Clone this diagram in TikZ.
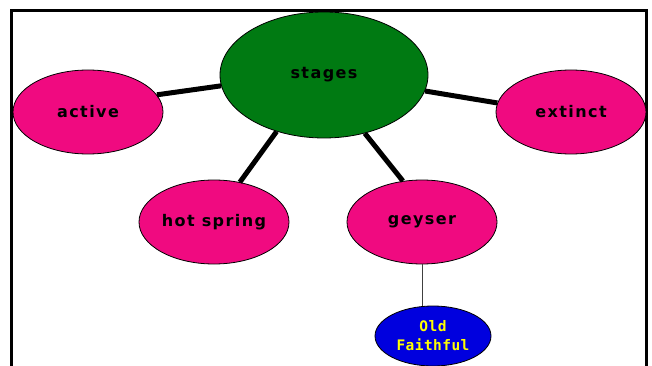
\documentclass[tikz,border=0pt]{standalone}
\usepackage{fontspec}
\usetikzlibrary{shapes.geometric}
\newfontfamily\labelfont[LetterSpace=9]{DejaVu Sans Bold}
\newfontfamily\namefont[LetterSpace=3]{DejaVu Sans Mono Bold}
\definecolor{stagegreen}{RGB}{0,122,18}
\definecolor{stagepink}{RGB}{240,10,128}
\definecolor{faithblue}{RGB}{0,0,222}
\definecolor{faithyellow}{RGB}{255,255,0}
\tikzset{
  bubble/.style={ellipse, draw=black, line width=0.8pt, inner sep=0pt,
    font=\labelfont\fontsize{16}{18}\selectfont, text=black},
  stagebox/.style={bubble, fill=stagepink, minimum width=150pt, minimum height=84pt},
  hub/.style={bubble, fill=stagegreen, minimum width=208pt, minimum height=126pt},
  namebox/.style={bubble, fill=faithblue, minimum width=116pt, minimum height=60pt,
    text=faithyellow, align=center, font=\namefont\fontsize{14.5}{19}\selectfont},
  spoke/.style={line width=5pt, black},
  twig/.style={line width=0.9pt, black!75}
}
\begin{document}
\begin{tikzpicture}[x=1pt, y=-1pt]
  \useasboundingbox (0,0) rectangle (652,366);
  \fill[white] (0,0) rectangle (652,366);
  % open frame: left, top and right sides
  \draw[line width=3pt] (11,366) -- (11,11) -- (646,11) -- (646,366);

  \node[hub] (stages) at (324,75) {stages};
  \node[stagebox] (active) at (88,112) {active};
  \node[stagebox] (extinct) at (571,112) {extinct};
  \node[stagebox] (hot) at (214,222) {hot spring};
  \node[stagebox] (geyser) at (422,222) {geyser};
  \node[namebox] (faithful) at (433,336) {Old\\Faithful};

  \draw[spoke] (stages.186) -- (active.14);
  \draw[spoke] (stages.-9) -- (extinct.173);
  \draw[spoke] (stages.230) -- (hot.57);
  \draw[spoke] (stages.305) -- (geyser.115);
  \draw[twig] (geyser.south) -- (geyser.south |- faithful.north);
\end{tikzpicture}
\end{document}
